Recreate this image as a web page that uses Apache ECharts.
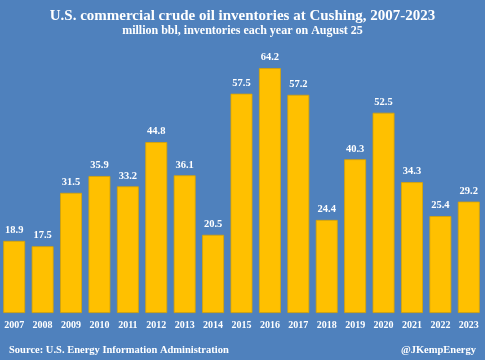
<!DOCTYPE html>
<html><head><meta charset="utf-8">
<script src="https://cdn.jsdelivr.net/npm/echarts@6/dist/echarts.min.js"></script>
<style>html,body{margin:0;padding:0;background:#4F81BD;}#c{width:485px;height:360px;}</style>
</head><body><div id="c"></div>
<script>
const years = ['2007','2008','2009','2010','2011','2012','2013','2014','2015','2016','2017','2018','2019','2020','2021','2022','2023'];
const inventories = [18.9,17.5,31.5,35.9,33.2,44.8,36.1,20.5,57.5,64.2,57.2,24.4,40.3,52.5,34.3,25.4,29.2];
const titleText = 'U.S. commercial crude oil inventories at Cushing, 2007-2023';
const subtitleText = 'million bbl, inventories each year on August 25';
const sourceText = 'Source: U.S. Energy Information Administration';
const handleText = '@JKempEnergy';
const font = '"Liberation Serif", "DejaVu Serif", serif';
const chart = echarts.init(document.getElementById('c'), null, {renderer:'canvas'});
chart.setOption({
  backgroundColor: '#4F81BD',
  animation: false,
  title: [
    {text: titleText, left: 'center', top: 4, textStyle:{color:'#fff', fontFamily:font, fontWeight:'bold', fontSize:15}},
    {text: subtitleText, left: 'center', top: 20, textStyle:{color:'#fff', fontFamily:font, fontWeight:'bold', fontSize:12}},
    {text: sourceText, left: 4, top: 340, textStyle:{color:'#fff', fontFamily:font, fontWeight:'bold', fontSize:10.5}},
    {text: handleText, right: 4, top: 340, textStyle:{color:'#fff', fontFamily:font, fontWeight:'bold', fontSize:10.5}}
  ],
  grid: {left: 0, right: 2, top: 46, bottom: 47, containLabel: false},
  xAxis: {type:'category', data: years, axisLine:{show:false}, axisTick:{show:false},
    axisLabel:{interval:0, color:'#fff', fontFamily:font, fontWeight:'bold', fontSize:10, margin:7}},
  yAxis: {type:'value', min:0, max:70, show:false, splitLine:{show:false}},
  series: [{type:'bar', data: inventories, barWidth:'77%',
    itemStyle:{color:'#FFC000', borderColor:'#D9A300', borderWidth:0.8},
    label:{show:true, position:'top', distance:5, color:'#fff', fontFamily:font, fontWeight:'bold', fontSize:10.5,
      formatter: p => p.value.toFixed(1)}}]
});
</script></body></html>
